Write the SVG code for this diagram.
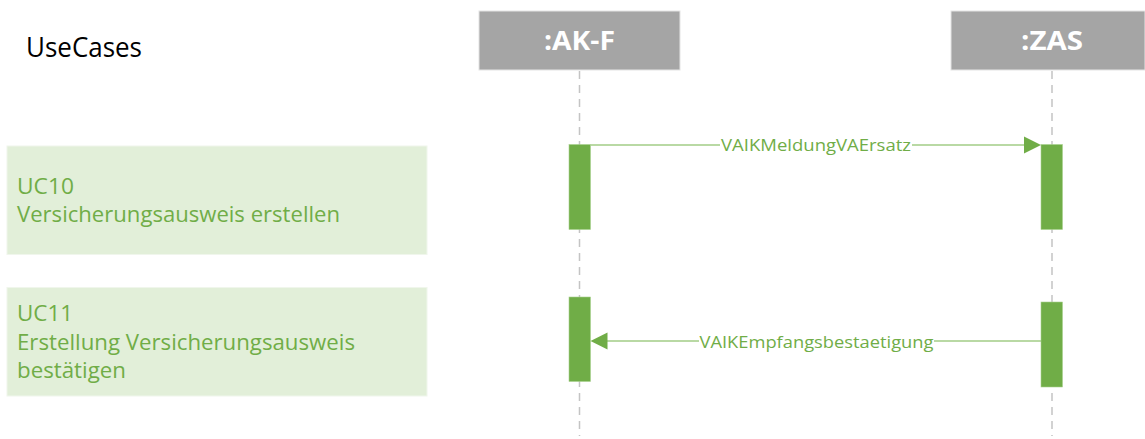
<svg xmlns="http://www.w3.org/2000/svg" width="1145" height="439" viewBox="0 0 1145 439">
<style>
text{font-family:"Open Sans","Noto Sans","Liberation Sans",sans-serif}
.head{fill:#a5a5a5;stroke:#e4e4e4;stroke-width:1}
.headt{fill:#fff;font-size:26px;font-weight:700;text-anchor:middle}
.uc{fill:#e2efd9;stroke:#f0f6ec;stroke-width:1}
.uct{fill:#70ad47;font-size:21px}
.bar{fill:#70ad47;stroke:#a9d08e;stroke-width:.6}
.life{stroke:#c4c4c4;stroke-width:1.5;stroke-dasharray:8 6;fill:none}
.msg{stroke:#a2cd86;stroke-width:1.6;fill:none}
.arrow{fill:#70ad47}
.msgt{fill:#70ad47;font-size:17px;text-anchor:middle}
</style>
<rect width="1145" height="439" fill="#fff"/>
<text x="26" y="57" font-size="26.500" fill="#000" textLength="116" lengthAdjust="spacingAndGlyphs">UseCases</text>
<g id="lifelines">
<path class="life" d="M579.5 71V436"/>
<path class="life" d="M1052 71V436"/>
</g>
<g id="akf"><rect class="head" x="479" y="11" width="201" height="59"/><text class="headt" x="579.5" y="50" textLength="71" lengthAdjust="spacingAndGlyphs">:AK-F</text></g>
<g id="zas"><rect class="head" x="951" y="11" width="194" height="59"/><text class="headt" x="1052" y="50" textLength="62" lengthAdjust="spacingAndGlyphs">:ZAS</text></g>
<g id="uc10"><rect class="uc" x="7" y="146" width="420" height="108.500"/>
<text class="uct" x="17" y="193.500" textLength="57" lengthAdjust="spacingAndGlyphs">UC10</text>
<text class="uct" x="17" y="222" textLength="323" lengthAdjust="spacingAndGlyphs">Versicherungsausweis erstellen</text></g>
<g id="uc11"><rect class="uc" x="7" y="287.500" width="420" height="108.500"/>
<text class="uct" x="17" y="320.500" textLength="56" lengthAdjust="spacingAndGlyphs">UC11</text>
<text class="uct" x="17" y="350" textLength="338" lengthAdjust="spacingAndGlyphs">Erstellung Versicherungsausweis</text>
<text class="uct" x="17" y="378" textLength="109" lengthAdjust="spacingAndGlyphs">bestätigen</text></g>
<g id="act-akf-1"><rect class="bar" x="569" y="144.500" width="21.500" height="85"/></g>
<g id="act-zas-1"><rect class="bar" x="1041" y="144.500" width="21.500" height="85"/></g>
<g id="act-akf-2"><rect class="bar" x="569" y="297" width="21.500" height="84.500"/></g>
<g id="act-zas-2"><rect class="bar" x="1041" y="302" width="21.500" height="85"/></g>
<g id="connectors">
<path class="msg" d="M590.500 145H720M912 145H1025"/>
<path class="arrow" d="M1024 136.500L1041 145L1024 153.500Z"/>
<text class="msgt" x="816" y="151" textLength="190" lengthAdjust="spacingAndGlyphs">VAIKMeldungVAErsatz</text>
<path class="msg" d="M607 341H699M934 341H1041"/>
<path class="arrow" d="M607.500 332.500L590.500 341L607.500 349.500Z"/>
<text class="msgt" x="816.500" y="348" textLength="234" lengthAdjust="spacingAndGlyphs">VAIKEmpfangsbestaetigung</text>
</g>
</svg>
